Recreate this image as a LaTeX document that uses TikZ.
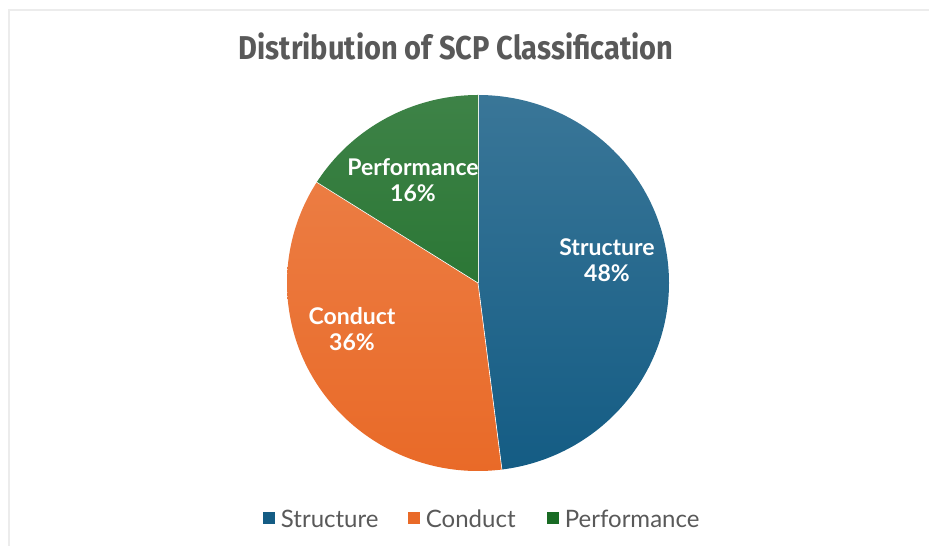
\documentclass[tikz,border=0pt]{standalone}
\usepackage{fontspec}
\setmainfont{Lato}
\newfontfamily\titlefont{Fira Sans}
\usetikzlibrary{positioning}

\definecolor{structblue}{HTML}{145C84}
\definecolor{conductorange}{HTML}{E96A28}
\definecolor{perfgreen}{HTML}{196B24}
\definecolor{textgray}{HTML}{595959}

\tikzset{
  slicelabel/.style={text=white, font=\fontsize{23}{26}\selectfont\bfseries, align=center, inner sep=0pt},
  legendsq/.style={minimum size=12pt, inner sep=0pt},
  legendtext/.style={text=textgray, font=\fontsize{24}{26}\selectfont, inner sep=0pt, anchor=west}
}

\begin{document}
\begin{tikzpicture}[x=1pt,y=1pt]
    \useasboundingbox (0,0) rectangle (929,546);
    \draw[gray!15, line width=2pt] (9,0) -- (9,536) -- (929,536);
    \coordinate (o) at (478,263);

    % the three slices, lighter toward the top
    \foreach \a/\b/\c in {90/-82.8/structblue, -82.8/-212.4/conductorange, -212.4/-270/perfgreen} {
      \begin{scope}
        \clip (o) -- ++(\a:191pt and 188pt) arc[start angle=\a, end angle=\b, x radius=191, y radius=188] -- cycle;
        \shade[top color=\c!84!white, bottom color=\c] (287,75) rectangle (669,451);
      \end{scope}
      \draw[white, line width=0.6pt] (o) -- ++(\a:191pt and 188pt);
    }

    \node[slicelabel] (struct) at (607,286) {Structure\\48\%};
    \node[slicelabel] (cond) at (352,217) {Conduct\\36\%};
    \node[slicelabel] (perf) at (413,366) {Performance\\16\%};

    \node[text=textgray, font=\titlefont\fontsize{33}{36}\selectfont\bfseries] (title) at (456,500) {\scalebox{0.88}[1]{Distribution of SCP Classification}};

    \node[legendsq, fill=structblue] (sqstruct) at (268.5,27.5) {};
    \node[legendtext, right=6pt of sqstruct] (lstruct) {Structure};
    \node[legendsq, fill=conductorange] (sqcond) at (413.5,27.5) {};
    \node[legendtext, right=6pt of sqcond] (lcond) {Conduct};
    \node[legendsq, fill=perfgreen] (sqperf) at (552.5,27.5) {};
    \node[legendtext, right=6pt of sqperf] (lperf) {Performance};
\end{tikzpicture}
\end{document}
